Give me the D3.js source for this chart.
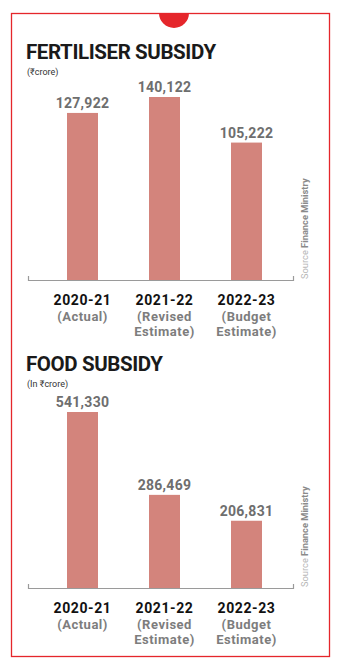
<!DOCTYPE html>
<html>
<head>
<meta charset="utf-8">
<script src="https://cdn.jsdelivr.net/npm/d3@7"></script>
<style>
  body { margin: 0; background: #fff; }
  text { font-family: Roboto, "Noto Sans", sans-serif; }
</style>
</head>
<body>
<div id="chart"></div>
<script>
// data
var years = ["2020-21", "2021-22", "2022-23"];
var yearNotes = [["(Actual)"], ["(Revised", "Estimate)"], ["(Budget", "Estimate)"]];
var fertiliserValues = [127922, 140122, 105222];
var foodValues = [541330, 286469, 206831];
var titles = ["FERTILISER SUBSIDY", "FOOD SUBSIDY"];
var units = ["(\u20B9crore)", "(In \u20B9crore)"];
var sourceLabel = "Source";
var sourceName = "Finance Ministry";

var W = 340, H = 667;
var red = "#e5262b";
var barColor = "#d3847c";

var svg = d3.select("#chart").append("svg")
    .attr("width", W)
    .attr("height", H);

// frame + red dot at the top
svg.append("rect")
    .attr("x", 11.5).attr("y", 13.5)
    .attr("width", 318).attr("height", 643)
    .attr("fill", "none")
    .attr("stroke", red)
    .attr("stroke-width", 1.3);

svg.append("path")
    .attr("d", d3.arc()({innerRadius: 0, outerRadius: 15, startAngle: Math.PI / 2, endAngle: Math.PI * 1.5}))
    .attr("transform", "translate(174,13)")
    .attr("fill", red);

var x = d3.scaleBand()
    .domain(years)
    .range([41.5, 287.5])
    .paddingInner(0.622)
    .paddingOuter(0.311);

function drawPanel(values, title, unit, top, base, maxTop) {
  var g = svg.append("g");

  var y = d3.scaleLinear()
      .domain([0, d3.max(values)])
      .range([base, maxTop]);

  g.append("text")
      .attr("x", 26).attr("y", top)
      .attr("font-size", 20.5)
      .attr("font-weight", 700)
      .attr("letter-spacing", -0.4)
      .attr("fill", "#1a1a1a")
      .text(title);

  g.append("text")
      .attr("x", 27).attr("y", top + 16)
      .attr("font-size", 9)
      .attr("fill", "#333")
      .text(unit);

  g.selectAll("rect.bar")
      .data(values)
    .enter().append("rect")
      .attr("class", "bar")
      .attr("x", function(d, i) { return x(years[i]); })
      .attr("width", x.bandwidth())
      .attr("y", function(d) { return y(d); })
      .attr("height", function(d) { return base - y(d); })
      .attr("fill", barColor);

  g.selectAll("text.val")
      .data(values)
    .enter().append("text")
      .attr("class", "val")
      .attr("x", function(d, i) { return x(years[i]) + x.bandwidth() / 2; })
      .attr("y", function(d) { return y(d) - 5; })
      .attr("text-anchor", "middle")
      .attr("font-size", 14)
      .attr("font-weight", 700)
      .attr("letter-spacing", 0.3)
      .attr("fill", "#6e6e6e")
      .text(d3.format(","));

  // baseline with end ticks
  g.append("path")
      .attr("d", "M28.5," + (base - 4) + "V" + (base + 0.5) + "H293.5V" + (base - 4))
      .attr("fill", "none")
      .attr("stroke", "#9a9a9a")
      .attr("stroke-width", 1.2);

  // category labels
  var lab = g.selectAll("g.cat")
      .data(years)
    .enter().append("g")
      .attr("class", "cat")
      .attr("transform", function(d) { return "translate(" + (x(d) + x.bandwidth() / 2) + "," + (base + 24.5) + ")"; });

  lab.append("text")
      .attr("text-anchor", "middle")
      .attr("font-size", 14)
      .attr("font-weight", 700)
      .attr("letter-spacing", 0.6)
      .attr("fill", "#111")
      .text(function(d) { return d; });

  lab.each(function(d, i) {
    d3.select(this).selectAll("text.note")
        .data(yearNotes[i])
      .enter().append("text")
        .attr("class", "note")
        .attr("y", function(n, j) { return 16 + j * 15.5; })
        .attr("text-anchor", "middle")
        .attr("font-size", 13)
        .attr("font-weight", 700)
        .attr("letter-spacing", 0.5)
        .attr("fill", "#7d7d7d")
        .text(function(n) { return n; });
  });

  // vertical source note
  var src = g.append("text")
      .attr("transform", "translate(308," + (base - 1) + ") rotate(-90)")
      .attr("font-size", 9.3);
  src.append("tspan").attr("fill", "#b5b5b5").text(sourceLabel + " ");
  src.append("tspan").attr("fill", "#8a8a8a").attr("font-weight", 700).text(sourceName);
}

drawPanel(fertiliserValues, titles[0], units[0], 59, 280, 97);
drawPanel(foodValues, titles[1], units[1], 371, 588, 412);
</script>
</body>
</html>
